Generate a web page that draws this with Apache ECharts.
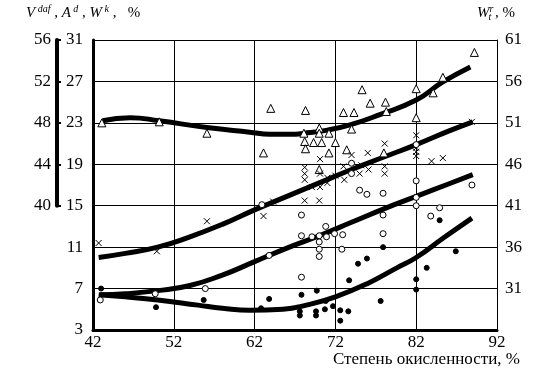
<!DOCTYPE html>
<html>
<head>
<meta charset="utf-8">
<script src="https://cdn.jsdelivr.net/npm/echarts@6/dist/echarts.min.js"></script>
<style>html,body{margin:0;padding:0;background:#fff}#c{width:552px;height:373px}</style>
</head>
<body>
<div id="c"></div>
<script>
// x ticks (oxidation degree, %)
var xTicks = [42, 52, 62, 72, 82, 92];
// inner left scale 3..31, outer left scale 40..56, right scale 31..61
var innerTicks = [3, 7, 11, 15, 19, 23, 27, 31];
var outerTicks = [40, 44, 48, 52, 56];
var rightTicks = [31, 36, 41, 46, 51, 56, 61];

// open triangles
var triPoints = [[43.1,23.0],[50.2,23.1],[56.1,22.0],[63.1,20.1],[64.0,24.4],[68.3,24.2],[73.0,24.0],[74.3,24.0],
  [75.3,26.2],[76.3,24.9],[78.2,25.0],[78.3,24.1],[82.0,26.3],[82.0,23.5],[84.1,25.9],[85.3,27.4],[89.2,29.8],
  [70.0,22.5],[68.1,22.0],[70.0,22.0],[71.2,22.0],[74.0,22.4],[68.2,21.2],[69.3,21.1],[70.3,21.1],[72.0,21.1],
  [68.3,20.5],[71.2,20.1],[73.4,20.4],[70.0,18.5],[78.0,20.1]];
// crosses
var crossPoints = [[42.7,11.4],[49.9,10.6],[56.1,13.5],[63.1,14.0],[64.3,15.4],[68.2,15.5],[70.0,15.5],[68.2,18.7],
  [68.2,18.1],[68.2,17.5],[69.1,16.8],[70.1,16.8],[70.1,19.5],[70.1,18.1],[71.0,17.7],[71.0,17.2],[72.0,17.9],
  [73.0,18.8],[73.1,17.5],[74.0,19.9],[75.0,18.1],[75.2,18.9],[76.0,20.1],[76.1,18.5],[78.1,21.0],[78.1,18.8],
  [78.1,18.1],[82.0,21.8],[82.0,20.6],[82.0,20.2],[82.0,19.8],[83.9,19.3],[85.3,19.6],[88.9,23.1]];
// open circles
var openCircPoints = [[42.9,5.9],[49.7,6.5],[55.9,7.0],[62.9,15.1],[63.8,10.2],[67.8,8.1],[67.8,14.1],[67.8,12.1],
  [69.1,12.0],[70.0,12.1],[70.0,11.5],[70.0,10.8],[70.0,10.1],[70.8,13.0],[70.9,12.0],[71.9,12.3],[72.9,12.2],
  [72.8,10.8],[74.0,19.1],[74.0,18.1],[75.0,16.5],[75.9,16.1],[77.9,16.2],[77.9,14.1],[77.9,12.3],[82.0,20.9],
  [82.0,17.4],[82.0,15.8],[82.0,15.0],[83.8,14.0],[84.9,14.8],[88.9,17.0]];
// filled circles
var fillCircPoints = [[43.0,7.0],[49.8,5.2],[55.7,5.9],[62.8,5.1],[63.8,6.0],[67.8,6.4],[69.7,6.8],[67.6,4.8],
  [67.6,4.4],[69.6,4.8],[69.6,4.4],[70.7,5.0],[70.8,5.8],[71.7,5.3],[72.6,4.9],[73.6,4.8],[72.6,3.9],[73.7,7.8],
  [74.8,9.4],[75.9,9.9],[77.9,11.0],[77.6,5.8],[82.0,7.9],[82.0,6.9],[83.3,9.0],[84.9,13.6],[86.9,10.6]];

// fitted curves
var triCurve = [[43.2,23.2],[46.6,23.5],[50.2,23.2],[56.1,22.55],[61.4,22.1],[63.9,21.9],[66.4,21.9],[68.2,22.0],
  [71.0,22.3],[73.8,22.8],[77.5,23.8],[82.0,25.2],[85.2,26.9],[88.7,28.4]];
var crossCurve = [[42.7,10.0],[46,10.4],[50,11.0],[54,12.0],[58,13.2],[62,14.6],[66,15.9],[70,17.2],[74,18.5],
  [78,19.7],[82,20.9],[86,22.2],[89,23.1]];
var openCurve = [[42.9,6.4],[46,6.5],[50,6.8],[54,7.3],[58,8.3],[62,9.6],[66,10.9],[70,12.1],[74,13.4],[78,14.7],
  [82,15.9],[86,17.1],[89,18.0]];
var fillCurve = [[42.7,6.4],[46,6.2],[50,5.9],[55,5.4],[58,5.1],[61.4,4.9],[65.5,5.0],[68.4,5.4],[72,6.2],
  [76,7.5],[79.6,9.0],[82,10.0],[85.4,11.9],[88.9,13.8]];

var FONT = 'Liberation Serif';
var black = '#000';
var chart = echarts.init(document.getElementById('c'), null, {renderer: 'canvas'});

function curve(data) {
  return {type: 'line', data: data, smooth: true, showSymbol: false, symbol: 'none',
    lineStyle: {color: black, width: 5}, xAxisIndex: 0, yAxisIndex: 0, z: 3, silent: true};
}
function pts(data, symbol, size, fill) {
  return {type: 'scatter', data: data, symbol: symbol, symbolSize: size, xAxisIndex: 0, yAxisIndex: 0, z: 4,
    itemStyle: {color: fill, borderColor: black, borderWidth: 1, opacity: 1}};
}

var option = {
  animation: false,
  backgroundColor: '#fff',
  grid: [
    {left: 93, top: 40, width: 404, height: 290, containLabel: false},
    {left: 57, top: 40, width: 10, height: 165.7, containLabel: false}
  ],
  xAxis: [
    {type: 'value', gridIndex: 0, min: xTicks[0], max: xTicks[xTicks.length - 1], interval: 10,
      axisLine: {show: true, onZero: false, lineStyle: {color: black, width: 3}},
      axisTick: {show: false},
      splitLine: {show: true, lineStyle: {color: black, width: 1}},
      axisLabel: {color: black, fontFamily: FONT, fontSize: 17, margin: 4}},
    {type: 'value', gridIndex: 1, show: false, min: 0, max: 1}
  ],
  yAxis: [
    {type: 'value', gridIndex: 0, position: 'left', min: innerTicks[0], max: innerTicks[innerTicks.length - 1], interval: 4,
      axisLine: {show: true, onZero: false, lineStyle: {color: black, width: 3}},
      axisTick: {show: false},
      splitLine: {show: true, lineStyle: {color: black, width: 1}},
      axisLabel: {color: black, fontFamily: FONT, fontSize: 17, margin: 10}},
    {type: 'value', gridIndex: 0, position: 'right', min: 26, max: rightTicks[rightTicks.length - 1], interval: 5,
      axisLine: {show: true, onZero: false, lineStyle: {color: black, width: 1}},
      axisTick: {show: false},
      splitLine: {show: false},
      axisLabel: {color: black, fontFamily: FONT, fontSize: 17, margin: 8,
        formatter: function (v) { return rightTicks.indexOf(v) >= 0 ? String(v) : ''; }}},
    {type: 'value', gridIndex: 1, position: 'left', min: outerTicks[0], max: outerTicks[outerTicks.length - 1], interval: 4,
      axisLine: {show: true, onZero: false, lineStyle: {color: black, width: 4}},
      axisTick: {show: true, inside: true, length: 4, lineStyle: {color: black, width: 2}},
      splitLine: {show: false},
      axisLabel: {color: black, fontFamily: FONT, fontSize: 17, margin: 6}}
  ],
  series: [
    curve(triCurve), curve(crossCurve), curve(openCurve), curve(fillCurve),
    pts(triPoints, 'triangle', 8, '#fff'),
    pts(crossPoints, 'path://M0,0L10,10M0,10L10,0', 6, 'none'),
    pts(openCircPoints, 'circle', 6, '#fff'),
    pts(fillCircPoints, 'circle', 5, black)
  ],
  graphic: [
    {type: 'text', left: 26, top: 4, style: {
      text: '{i|V}{s| daf}{n| , }{i|A}{s| d}{n| , }{i|W}{s| k}{n| ,   %}',
      fill: black,
      rich: {
        i: {fontFamily: FONT, fontStyle: 'italic', fontSize: 15, fill: black},
        s: {fontFamily: FONT, fontStyle: 'italic', fontSize: 10, fill: black, padding: [0, 0, 8, 0]},
        n: {fontFamily: FONT, fontSize: 15, fill: black}
      }}},
    {type: 'text', left: 477, top: 4, style: {
      text: '{i|W}{s|r}{b|t}{n| , %}',
      fill: black,
      rich: {
        i: {fontFamily: FONT, fontStyle: 'italic', fontSize: 15, fill: black},
        s: {fontFamily: FONT, fontStyle: 'italic', fontSize: 10, fill: black, padding: [0, 0, 8, 0]},
        b: {fontFamily: FONT, fontStyle: 'italic', fontSize: 10, fill: black, padding: [8, 0, 0, -5]},
        n: {fontFamily: FONT, fontSize: 15, fill: black}
      }}},
    {type: 'text', right: 32, top: 351, style: {
      text: 'Степень окисленности, %', fill: black, fontFamily: FONT, fontSize: 17}}
  ]
};
chart.setOption(option);
</script>
</body>
</html>
